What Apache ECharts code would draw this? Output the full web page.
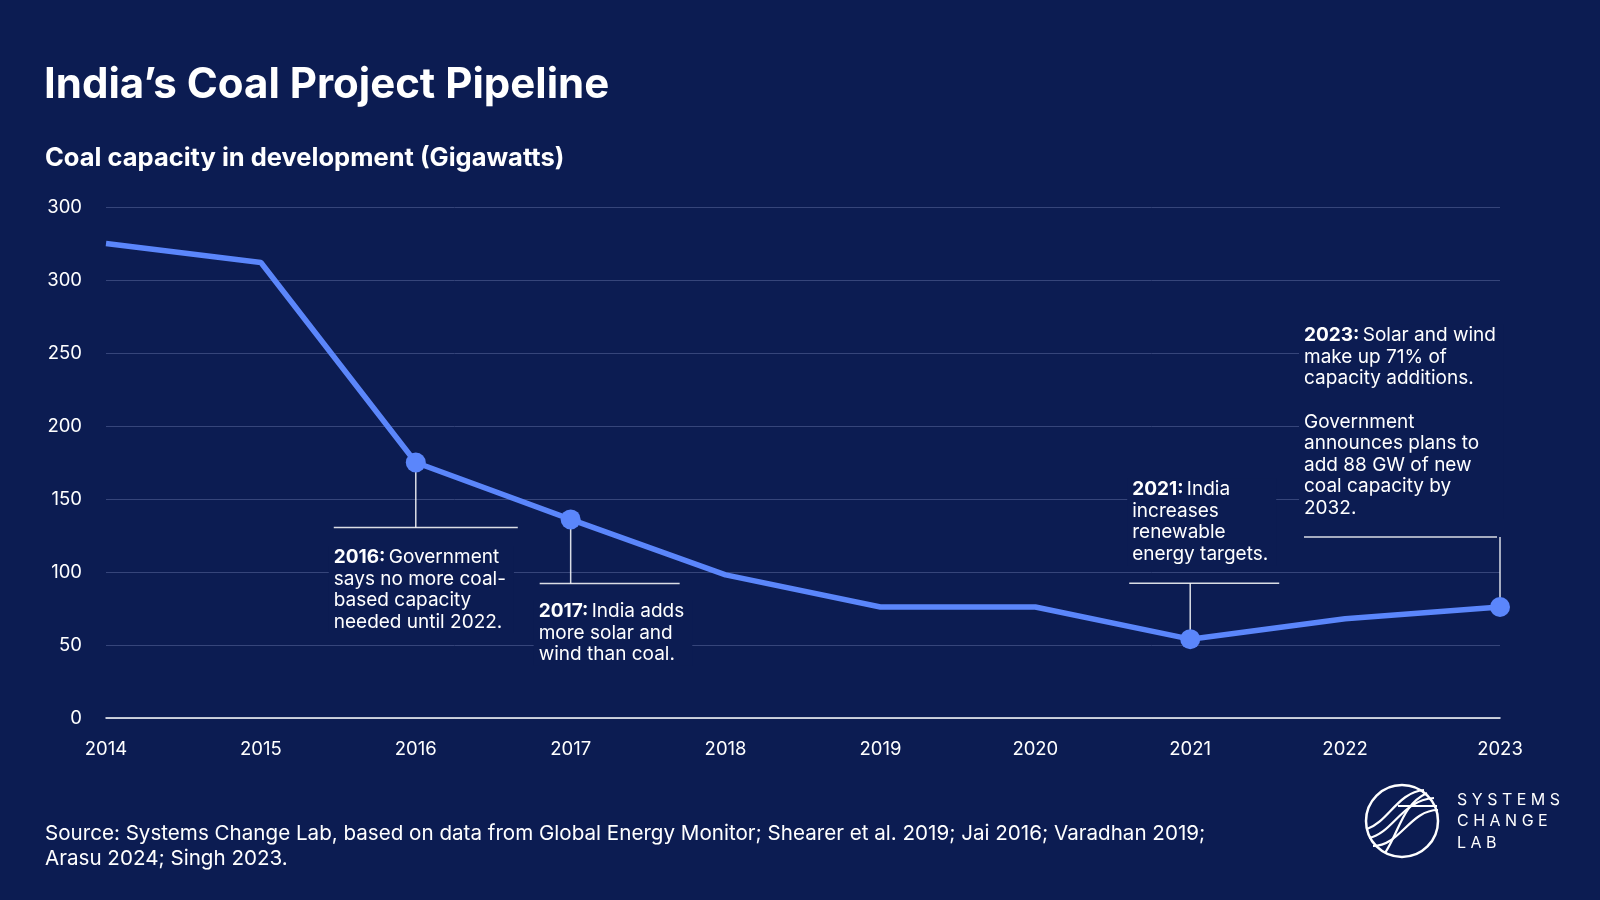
<!DOCTYPE html>
<html><head><meta charset="utf-8">
<script src="https://cdn.jsdelivr.net/npm/echarts@6/dist/echarts.min.js"></script>
<style>html,body{margin:0;padding:0;background:#0c1c52}#c{width:1600px;height:900px}</style>
</head><body><div id="c"></div>
<script>
// ---- data ----
const years = ['2014','2015','2016','2017','2018','2019','2020','2021','2022','2023'];
const capacity = [325, 312, 175, 136, 98, 76, 76, 54, 68, 76];
const yTickLabels = ['0','50','100','150','200','250','300','300'];
const markedYears = ['2016','2017','2021','2023'];
const noteYears = ['2016','2017','2021','2023'];
const noteHeads = ['2016:', '2017:', '2021:', '2023:'];
const noteTexts = [
  ['Government', 'says no more coal-', 'based capacity', 'needed until 2022.'],
  ['India adds', 'more solar and', 'wind than coal.'],
  ['India', 'increases', 'renewable', 'energy targets.'],
  ['Solar and wind', 'make up 71% of', 'capacity additions.', '', 'Government', 'announces plans to', 'add 88 GW of new', 'coal capacity by', '2032.']
];
const titleText = 'India\u2019s Coal Project Pipeline';
const subtitleText = 'Coal capacity in development (Gigawatts)';
const sourceText = 'Source: Systems Change Lab, based on data from Global Energy Monitor; Shearer et al. 2019; Jai 2016; Varadhan 2019;\nArasu 2024; Singh 2023.';
const logoLines = ['SYSTEMS', 'CHANGE', 'LAB'];

// ---- layout / style ----
const BG = '#0c1c52';
const LINE = '#5b86fb';
const FONT = 'Inter, "Open Sans", sans-serif';
const noteLayout = {
  '2016': {dir: 1, stem: 65, left: -82, right: 102, tx: -82, gap: 19},
  '2017': {dir: 1, stem: 64, left: -31, right: 109, tx: -32, gap: 17},
  '2021': {dir: -1, stem: 56, left: -61, right: 89, tx: -58, gap: 18},
  '2023': {dir: -1, stem: 70, left: -196, right: -3, tx: -196, gap: 18}
};
const LH = 21.6;

const chart = echarts.init(document.getElementById('c'), null, {renderer: 'canvas'});

const seriesData = capacity.map((v, i) => ({
  value: v,
  symbolSize: markedYears.includes(years[i]) ? 20 : 0
}));

chart.setOption({
  backgroundColor: BG,
  animation: false,
  textStyle: {fontFamily: FONT},
  title: [
    {text: titleText, left: 44, top: 64, padding: 0, textStyle: {color: '#fff', fontSize: 42, fontWeight: 700, fontFamily: FONT}},
    {text: subtitleText, left: 45, top: 145, padding: 0, textStyle: {color: '#fff', fontSize: 25.5, fontWeight: 700, fontFamily: FONT}}
  ],
  grid: {left: 106, right: 100, top: 207, bottom: 182, containLabel: false},
  xAxis: {
    type: 'category', data: years, boundaryGap: false,
    axisLine: {lineStyle: {color: '#ffffff', width: 1.5}},
    axisTick: {show: false},
    axisLabel: {color: '#fff', fontSize: 18.5, margin: 22, fontFamily: FONT}
  },
  yAxis: {
    type: 'value', min: 0, max: 350, interval: 50,
    axisLine: {show: false}, axisTick: {show: false},
    axisLabel: {color: '#fff', fontSize: 18.5, margin: 24, fontFamily: FONT,
      formatter: v => yTickLabels[Math.round(v / 50)]},
    splitLine: {lineStyle: {color: '#36457a', width: 1}}
  },
  series: [{
    type: 'line', data: seriesData, symbol: 'circle',
    lineStyle: {color: LINE, width: 5.5},
    itemStyle: {color: LINE},
    z: 5
  }]
});

// ---- annotations anchored to data via the library's scales ----
const graphics = [];
noteYears.forEach((yr, k) => {
  const idx = years.indexOf(yr);
  const p = chart.convertToPixel({seriesIndex: 0}, [idx, capacity[idx]]);
  const L = noteLayout[yr];
  const stemY = p[1] + L.dir * L.stem;
  graphics.push({type: 'line', z: 1, shape: {x1: p[0], y1: p[1], x2: p[0], y2: stemY},
    style: {stroke: 'rgba(255,255,255,0.85)', lineWidth: 1.5}});
  graphics.push({type: 'line', z: 1, shape: {x1: p[0] + L.left, y1: stemY, x2: p[0] + L.right, y2: stemY},
    style: {stroke: 'rgba(255,255,255,0.85)', lineWidth: 1.5}});
  const lines = noteTexts[k];
  const rich = lines.map((t, j) => j === 0 ? '{b|' + noteHeads[k] + '} {r|' + t + '}' : (t === '' ? '{r| }' : '{r|' + t + '}')).join('\n');
  const h = lines.length * LH;
  const top = L.dir > 0 ? stemY + L.gap : stemY - L.gap - h;
  graphics.push({type: 'text', z: 2, x: p[0] + L.tx - 5, y: top,
    style: {text: rich, fill: '#fff', backgroundColor: BG, padding: [0, 8, 0, 5],
      rich: {
        b: {fontFamily: FONT, fontSize: 19, fontWeight: 700, fill: '#fff', lineHeight: LH},
        r: {fontFamily: FONT, fontSize: 19, fontWeight: 400, fill: '#fff', lineHeight: LH}
      }}});
});

// source
graphics.push({type: 'text', left: 45, top: 822,
  style: {text: sourceText, fill: '#fff', font: '400 20.6px ' + FONT, lineHeight: 24.5}});

// logo
const cx = 1402, cy = 821, r = 36;
const logoStroke = {stroke: '#fff', lineWidth: 2.5, fill: null};
graphics.push({type: 'circle', shape: {cx, cy, r}, style: logoStroke});
const curves = [
  [1367, 829, 1388, 822, 1398, 792, 1424, 790],
  [1369, 838, 1393, 833, 1402, 800, 1434, 798],
  [1373, 846, 1400, 846, 1410, 810, 1438, 810],
  [1385, 853, 1400, 830, 1402, 805, 1427, 793],
  [1398, 806, 1412, 806, 1425, 806, 1437, 806]
];
curves.forEach(c => graphics.push({type: 'bezierCurve',
  shape: {x1: c[0], y1: c[1], cpx1: c[2], cpy1: c[3], cpx2: c[4], cpy2: c[5], x2: c[6], y2: c[7]},
  style: {stroke: '#fff', lineWidth: 2.2, fill: null}}));
logoLines.forEach((t, i) => graphics.push({type: 'text', x: 1457, y: 800 + i * 21.5,
  style: {text: t.split('').join(' '), fill: '#fff', font: '400 16px ' + FONT, verticalAlign: 'middle'}}));

chart.setOption({graphic: graphics});
</script></body></html>
